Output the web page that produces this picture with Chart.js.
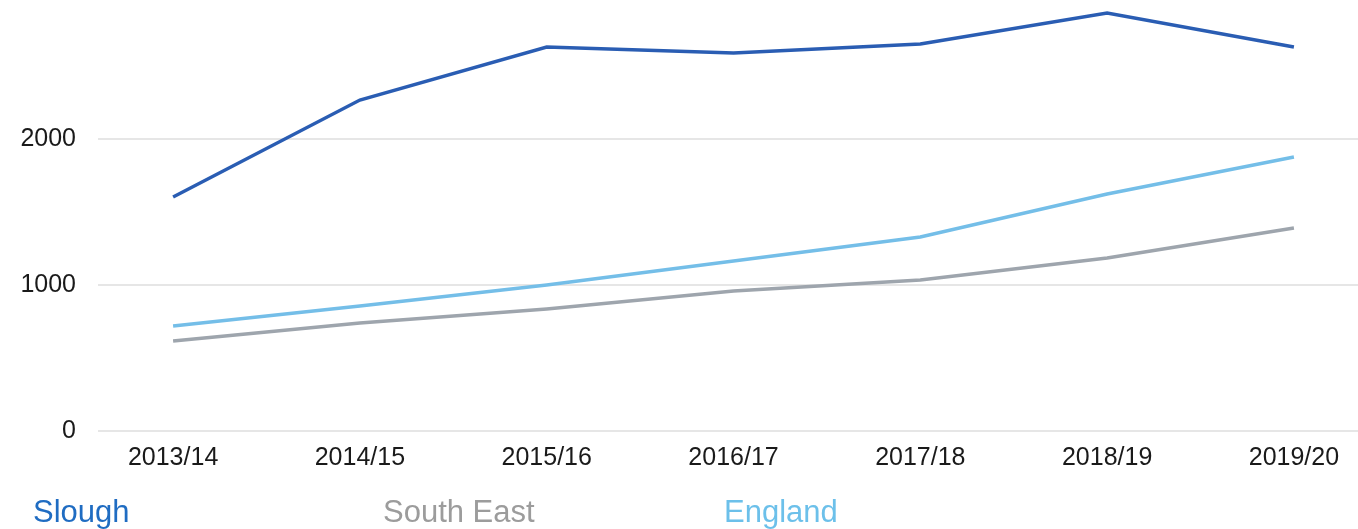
<!DOCTYPE html>
<html>
<head>
<meta charset="utf-8">
<script src="https://cdn.jsdelivr.net/npm/chart.js@4"></script>
<style>
  html, body { margin: 0; padding: 0; background: #fff; }
  #wrap { position: relative; width: 1358px; height: 529px; overflow: hidden; }
  #c { position: absolute; left: 0; top: 0; }
  .lg { position: absolute; top: 496px; font-family: "Liberation Sans", Arial, sans-serif; font-size: 31px; line-height: 31px; white-space: nowrap; }
</style>
</head>
<body>
<div id="wrap">
  <canvas id="c" width="1358" height="529"></canvas>
  <div class="lg" id="lg0" style="left:33px;color:#1f6cc2;">Slough</div>
  <div class="lg" id="lg1" style="left:383px;color:#9c9c9c;">South East</div>
  <div class="lg" id="lg2" style="left:724px;color:#6cc0ea;">England</div>
</div>
<script>
const categories = ["2013/14", "2014/15", "2015/16", "2016/17", "2017/18", "2018/19", "2019/20"];
const slough = [1603, 2267, 2630, 2589, 2651, 2863, 2630];
const southEast = [616, 740, 836, 959, 1034, 1185, 1390];
const england = [719, 856, 1000, 1164, 1329, 1623, 1877];
const yTicks = [0, 1000, 2000];

const toPoints = arr => arr.map((v, i) => ({ x: i, y: v }));

const font = { family: "'Liberation Sans', Arial, sans-serif", size: 25 };

new Chart(document.getElementById('c'), {
  type: 'line',
  data: {
    datasets: [
      { label: 'Slough', data: toPoints(slough), borderColor: '#2a5db3', borderWidth: 3.5, pointRadius: 0, tension: 0 },
      { label: 'South East', data: toPoints(southEast), borderColor: '#9ea5ad', borderWidth: 3.5, pointRadius: 0, tension: 0 },
      { label: 'England', data: toPoints(england), borderColor: '#74bee8', borderWidth: 3.5, pointRadius: 0, tension: 0 }
    ]
  },
  options: {
    responsive: false,
    animation: false,
    layout: { padding: 0 },
    plugins: { legend: { display: false }, tooltip: { enabled: false } },
    scales: {
      x: {
        type: 'linear',
        min: -0.402,
        max: 6.343,
        grid: { display: false },
        border: { display: false },
        ticks: {
          includeBounds: false,
          stepSize: 1,
          autoSkip: false,
          maxRotation: 0,
          padding: 4,
          color: '#1a1a1a',
          font: font,
          callback: v => (Number.isInteger(v) && categories[v] !== undefined) ? categories[v] : ''
        },
        afterFit: s => { s.height = 98; s.paddingLeft = 0; s.paddingRight = 0; }
      },
      y: {
        min: 0,
        max: 2952,
        grid: { color: '#e6e6e6', lineWidth: 2, drawTicks: false },
        border: { display: false },
        afterBuildTicks: s => { s.ticks = yTicks.map(v => ({ value: v })); },
        ticks: {
          includeBounds: false,
          padding: 22,
          color: '#1a1a1a',
          font: font,
          callback: v => String(v)
        },
        afterFit: s => { s.width = 98; s.paddingTop = 0; s.paddingBottom = 0; }
      }
    }
  }
});
</script>
</body>
</html>
